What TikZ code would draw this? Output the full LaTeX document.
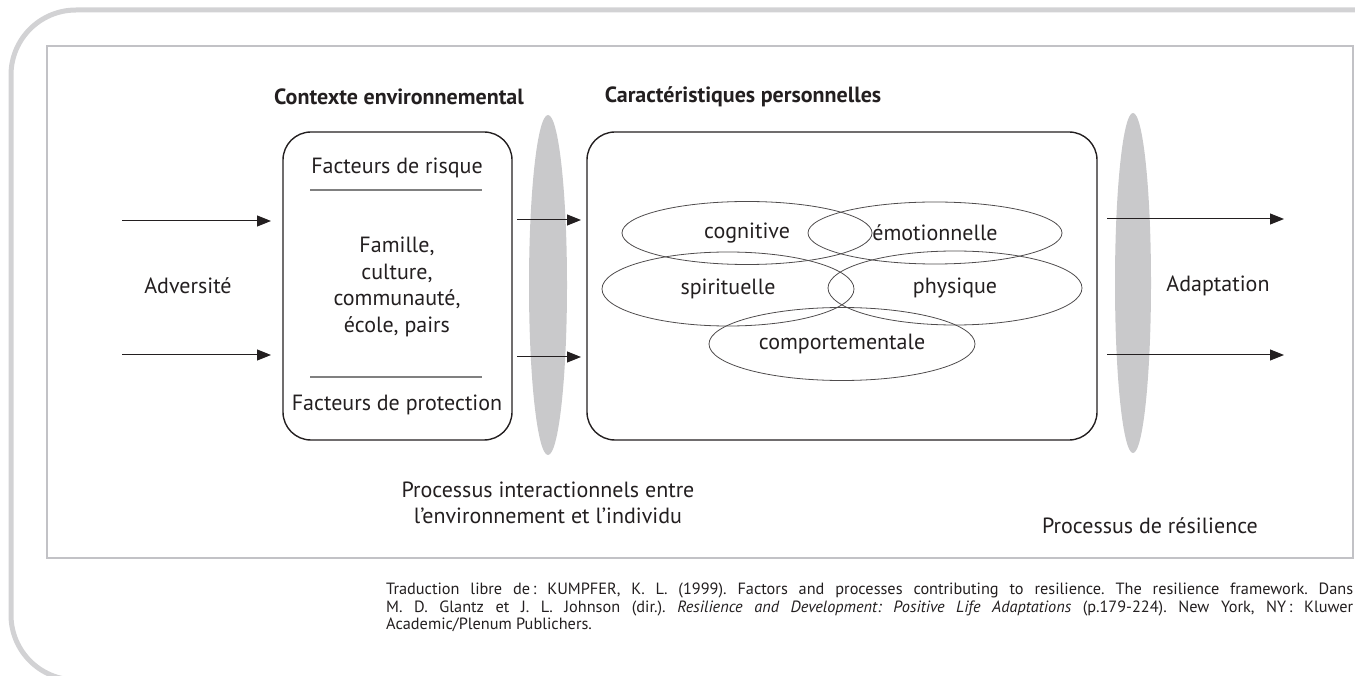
\documentclass[tikz,border=0pt]{standalone}
\usepackage{fontspec}
\setmainfont{PT Sans}
\frenchspacing
\usetikzlibrary{arrows.meta,shapes.geometric}
\definecolor{framegray}{HTML}{D2D2D4}
\definecolor{innergray}{HTML}{C2C2C6}
\definecolor{lensgray}{HTML}{C9C9CB}
\definecolor{ink}{HTML}{231F20}
\definecolor{rulegray}{HTML}{808080}
\begin{document}
\begin{tikzpicture}[x=1pt,y=-1pt,
  every node/.style={text=ink,font=\fontsize{22}{26.5}\selectfont},
  heading/.style={font=\fontsize{22}{26}\selectfont\bfseries},
  roundbox/.style={draw=ink,line width=1.4pt,rounded corners=28pt,minimum width=#1,minimum height=308pt,inner sep=0pt},
  lens/.style={ellipse,fill=lensgray,draw=none,inner sep=0pt},
  trait/.style={ellipse,draw=ink!80,line width=0.8pt,inner sep=0pt},
  flow/.style={draw=ink,line width=1pt,-{Triangle[length=14pt,width=11pt]}},
  sep/.style={draw=rulegray,line width=1.3pt}]
\useasboundingbox (0,0) rectangle (1355,676);
\begin{scope}
\clip (0,0) rectangle (1355,676);
\draw[framegray,line width=5pt,rounded corners=65pt] (1380,10) -- (11,10) -- (11,680) -- (1380,680);
\end{scope}
\draw[innergray,line width=2pt] (47,46) rectangle (1353,558);
% lenses
\node[lens,minimum width=38pt,minimum height=340pt] (lensA) at (548,285) {};
\node[lens,minimum width=36pt,minimum height=340pt] (lensB) at (1133,283) {};
% boxes
\node[roundbox=229pt] (ctx) at (397.5,286) {};
\node[roundbox=510pt] (pers) at (842,286) {};
\node[heading] (ctxT) at (399,97) {Contexte environnemental};
\node[heading] (persT) at (743,97) {Caractéristiques personnelles};
% left box content
\node (risk) at (397,168) {Facteurs de risque};
\coordinate (r1a) at (310,190); \coordinate (r1b) at (482,190);
\draw[sep] (r1a) -- (r1b);
\node[align=center] (fam) at (397,287) {Famille,\\culture,\\communauté,\\école, pairs};
\coordinate (r2a) at (310,377); \coordinate (r2b) at (482,377);
\draw[sep] (r2a) -- (r2b);
\node (prot) at (397,405) {Facteurs de protection};
% traits
\node[trait,minimum width=250pt,minimum height=63pt] (cog) at (747,233) {cognitive};
\node[trait,minimum width=254pt,minimum height=62pt] (emo) at (935,233) {émotionnelle};
\node[trait,minimum width=252pt,minimum height=74pt] (spi) at (728,289) {spirituelle};
\node[trait,minimum width=254pt,minimum height=74pt] (phy) at (955,288) {physique};
\node[trait,minimum width=266pt,minimum height=73pt] (comp) at (842,344) {comportementale};
% side labels
\node (adv) at (188,286) {Adversité};
\node (adapt) at (1218,286) {Adaptation};
% arrows
\coordinate (l1s) at (122,221); \coordinate (l1e) at (271,221);
\coordinate (l2s) at (122,355); \coordinate (l2e) at (271,355);
\coordinate (m1s) at (517,220); \coordinate (m1e) at (581,220);
\coordinate (m2s) at (517,357); \coordinate (m2e) at (581,357);
\coordinate (o1s) at (1107,219); \coordinate (o1e) at (1284,219);
\coordinate (o2s) at (1107,355); \coordinate (o2e) at (1284,355);
\draw[flow] (l1s) -- (l1e);
\draw[flow] (l2s) -- (l2e);
\draw[flow] (m1s) -- (m1e);
\draw[flow] (m2s) -- (m2e);
\draw[flow] (o1s) -- (o1e);
\draw[flow] (o2s) -- (o2e);
% bottom labels
\node[align=center] (inter) at (548,503) {Processus interactionnels entre\\l’environnement et l’individu};
\node (resil) at (1150,526) {Processus de résilience};
% footnote
\node[anchor=north west,text width=967pt,align=justify,inner sep=0pt,font=\fontsize{16.3}{17.5}\selectfont] (src) at (386,583) {Traduction libre de\,: KUMPFER, K. L. (1999). Factors and processes contributing to resilience. The resilience framework. Dans\linebreak M. D. Glantz et J. L. Johnson (dir.). \textit{Resilience and Development: Positive Life Adaptations} (p.179-224). New York, NY\,: Kluwer\linebreak Academic/Plenum Publichers.};
\end{tikzpicture}
\end{document}
